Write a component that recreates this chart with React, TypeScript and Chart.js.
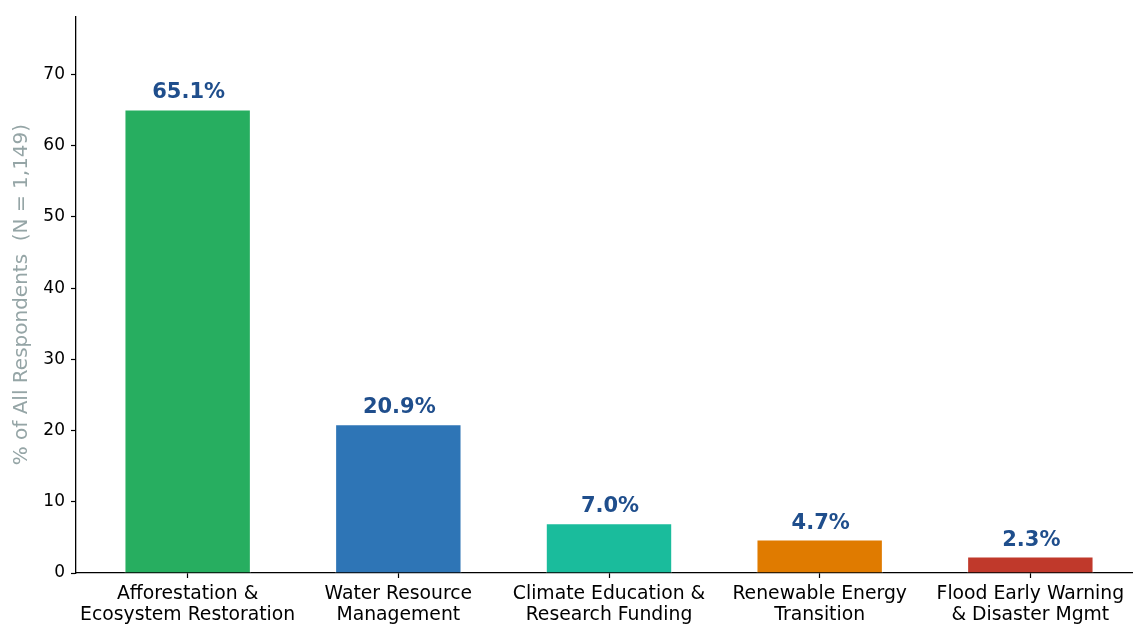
import React, { useEffect, useRef } from "react";
import { Chart, registerables } from "chart.js";

Chart.register(...registerables);

const categories: string[][] = [
  ["Afforestation &", "Ecosystem Restoration"],
  ["Water Resource", "Management"],
  ["Climate Education &", "Research Funding"],
  ["Renewable Energy", "Transition"],
  ["Flood Early Warning", "& Disaster Mgmt"],
];
const values: number[] = [65.1, 20.9, 7.0, 4.7, 2.3];
const valueLabels: string[] = ["65.1%", "20.9%", "7.0%", "4.7%", "2.3%"];
const barColors: string[] = ["#27ae60", "#2e75b6", "#1abc9c", "#e07b00", "#c0392b"];
const yTicks: number[] = [0, 10, 20, 30, 40, 50, 60, 70];
const yAxisTitle = "% of All Respondents  (N = 1,149)";

const FONT = "'DejaVu Sans', sans-serif";

const valueLabelPlugin = {
  id: "valueLabels",
  afterDatasetsDraw(chart: any) {
    const ctx = chart.ctx;
    const meta = chart.getDatasetMeta(0);
    ctx.save();
    ctx.font = `bold 21px ${FONT}`;
    ctx.fillStyle = "#1f4e8c";
    ctx.textAlign = "center";
    ctx.textBaseline = "alphabetic";
    meta.data.forEach((el: any, i: number) => {
      ctx.fillText(valueLabels[i], el.x + 1, el.y - 11);
    });
    ctx.restore();
  },
};

export default function App() {
  const ref = useRef<HTMLCanvasElement | null>(null);
  useEffect(() => {
    if (!ref.current) return;
    const chart = new Chart(ref.current, {
      type: "bar",
      data: {
        datasets: [
          {
            data: values.map((v, i) => ({ x: i, y: v })),
            backgroundColor: barColors,
            borderColor: "#ffffff",
            borderWidth: 1,
            barPercentage: 0.6,
            categoryPercentage: 1,
          },
        ],
      },
      options: {
        animation: false,
        responsive: false,
        maintainAspectRatio: false,
        layout: { padding: { top: 15, right: 8, bottom: 0, left: 0 } },
        plugins: { legend: { display: false }, tooltip: { enabled: false } },
        scales: {
          x: {
            type: "linear",
            offset: false,
            min: -0.53,
            max: 4.53,
            afterFit: (s: any) => {
              s.height = 53;
            },
            grid: {
              offset: false,
              drawOnChartArea: false,
              drawTicks: true,
              tickLength: 5,
              tickColor: "#000",
              tickWidth: 1.2,
            },
            border: { display: true, color: "#000", width: 1.3 },
            ticks: {
              stepSize: 1,
              includeBounds: false,
              autoSkip: false,
              maxRotation: 0,
              padding: 5,
              color: "#000",
              font: { family: FONT, size: 18.8, lineHeight: 1.13 },
              callback: (v: any) => {
                const idx = Math.round(Number(v));
                return Number.isInteger(Number(v)) && categories[idx] ? categories[idx] : "";
              },
            },
          },
          y: {
            type: "linear",
            min: 0,
            max: 78.2,
            afterFit: (s: any) => {
              s.width = 76;
            },
            afterBuildTicks: (s: any) => {
              s.ticks = yTicks.map((v) => ({ value: v }));
            },
            grid: {
              drawOnChartArea: false,
              drawTicks: true,
              tickLength: 5,
              tickColor: "#000",
              tickWidth: 1.2,
            },
            border: { display: true, color: "#000", width: 1.3 },
            ticks: {
              padding: 6,
              color: "#000",
              font: { family: FONT, size: 17 },
            },
            title: {
              display: true,
              text: yAxisTitle,
              color: "#95a5a6",
              font: { family: FONT, size: 20 },
              padding: { top: 10, bottom: 0 },
            },
          },
        },
      },
      plugins: [valueLabelPlugin],
    });
    return () => chart.destroy();
  }, []);

  return (
    <div
      style={{
        position: "fixed",
        left: 0,
        top: 0,
        width: 1133,
        height: 626,
        overflow: "hidden",
        background: "#fff",
      }}
    >
      <canvas ref={ref} width={1150} height={626} style={{ width: 1150, height: 626, display: "block" }} />
    </div>
  );
}
